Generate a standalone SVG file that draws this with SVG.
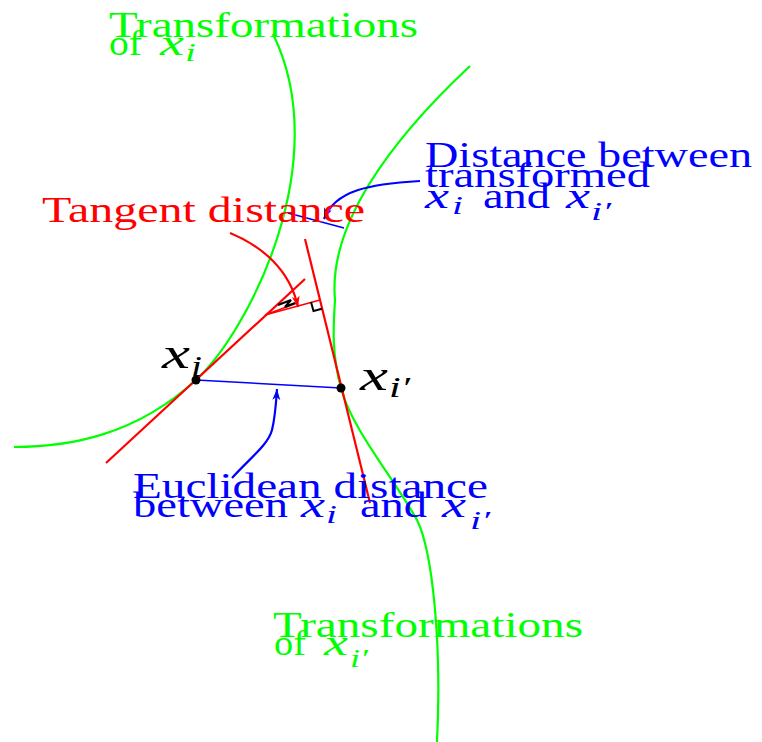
<svg xmlns="http://www.w3.org/2000/svg" width="762" height="742" viewBox="0 0 762 742">
<style>
.t{font-family:"Liberation Serif","Times New Roman",serif;font-size:36px}
.m{font-family:"Liberation Serif","Times New Roman",serif;font-style:italic}
.g{fill:#00ff00}.r{fill:#ff0000}.b{fill:#0000ff}.k{fill:#000}
.cg{fill:none;stroke:#00ff00;stroke-width:2.2}
.cr{fill:none;stroke:#ff0000;stroke-width:2.2}
.cb{fill:none;stroke:#0000ff;stroke-width:2.2}
</style>
<defs>
<marker id="ab" markerUnits="userSpaceOnUse" markerWidth="14" markerHeight="10" refX="11" refY="5" orient="auto"><path d="M0,1 L11,5 L0,9 L3,5 z" fill="#0000ff"/></marker>
<marker id="ar" markerUnits="userSpaceOnUse" markerWidth="14" markerHeight="10" refX="11" refY="5" orient="auto"><path d="M0,1 L11,5 L0,9 L3,5 z" fill="#ff0000"/></marker>
</defs>
<g id="connectors">
<path class="cg" d="M273,34 C335,160 250,330 196,380 C136,435 70,447 14,447"/>
<path class="cg" d="M470,66 C390,141 328,225 335,300 C333,330 332,355 341,388 C351,428 395,480 417,520 C432,550 442,640 437,742"/>
<line class="cr" x1="106" y1="463" x2="305" y2="279"/>
<line class="cr" x1="305" y1="239" x2="370" y2="503"/>
<line stroke="#ff0000" stroke-width="1.5" x1="265" y1="315" x2="320" y2="300"/>
<line stroke="#ff0000" stroke-width="1.5" x1="265" y1="315" x2="297" y2="303"/>
<polyline fill="none" stroke="#000" stroke-width="2" points="311,302 313.5,311 322,308.7"/>
<polyline fill="none" stroke="#000" stroke-width="2.2" points="278,305 291,300 285,307 295,303"/>
<path class="cr" d="M230,233 C262,246 290,270 298,307" marker-end="url(#ar)"/>
<line stroke="#0000ff" stroke-width="1.4" x1="196" y1="380" x2="341" y2="388"/>
<line stroke="#0000ff" stroke-width="1.6" x1="288" y1="213" x2="344" y2="228"/>
<path class="cb" d="M232,478 C250,458 268,445 272,430 C275,418 276,405 277,389" marker-end="url(#ab)"/>
<path class="cb" d="M420,181 C370,184 335,190 324,219" marker-end="url(#ab)"/>
</g>
<g id="point-xi">
<circle cx="196" cy="380" r="4.5" class="k"/>
<text class="m k" x="162" y="368" font-size="45" textLength="28" lengthAdjust="spacingAndGlyphs">x</text>
<text class="m k" x="191" y="376" font-size="30" textLength="11" lengthAdjust="spacingAndGlyphs">i</text>
</g>
<g id="point-xip">
<circle cx="341" cy="388" r="4.5" class="k"/>
<text class="m k" x="360" y="390" font-size="45" textLength="28" lengthAdjust="spacingAndGlyphs">x</text>
<text class="m k" x="389" y="397" font-size="30" textLength="21" lengthAdjust="spacingAndGlyphs">i′</text>
</g>
<g id="label-trans-xi">
<text class="t g" x="109" y="37" textLength="309" lengthAdjust="spacingAndGlyphs">Transformations</text>
<text class="t g" x="109" y="55" textLength="33" lengthAdjust="spacingAndGlyphs">of</text>
<text class="m g" x="160" y="55" font-size="36" textLength="24" lengthAdjust="spacingAndGlyphs">x</text>
<text class="m g" x="185" y="61" font-size="26" textLength="11" lengthAdjust="spacingAndGlyphs">i</text>
</g>
<g id="label-dist-transformed">
<text class="t b" x="425" y="167" textLength="327" lengthAdjust="spacingAndGlyphs">Distance between</text>
<text class="t b" x="425" y="187" textLength="225" lengthAdjust="spacingAndGlyphs">transformed</text>
<text class="m b" x="425" y="208" font-size="36" textLength="24" lengthAdjust="spacingAndGlyphs">x</text>
<text class="m b" x="452" y="214" font-size="26" textLength="11" lengthAdjust="spacingAndGlyphs">i</text>
<text class="t b" x="483" y="208" textLength="67" lengthAdjust="spacingAndGlyphs">and</text>
<text class="m b" x="566" y="208" font-size="36" textLength="24" lengthAdjust="spacingAndGlyphs">x</text>
<text class="m b" x="591" y="220" font-size="26" textLength="20" lengthAdjust="spacingAndGlyphs">i′</text>
</g>
<g id="label-tangent">
<text class="t r" x="42" y="222" textLength="323" lengthAdjust="spacingAndGlyphs">Tangent distance</text>
</g>
<g id="label-euclidean">
<text class="t b" x="133" y="498" textLength="355" lengthAdjust="spacingAndGlyphs">Euclidean distance</text>
<text class="t b" x="133" y="517" textLength="155" lengthAdjust="spacingAndGlyphs">between</text>
<text class="m b" x="301" y="517" font-size="36" textLength="24" lengthAdjust="spacingAndGlyphs">x</text>
<text class="m b" x="326" y="523" font-size="26" textLength="11" lengthAdjust="spacingAndGlyphs">i</text>
<text class="t b" x="360" y="517" textLength="67" lengthAdjust="spacingAndGlyphs">and</text>
<text class="m b" x="442" y="517" font-size="36" textLength="24" lengthAdjust="spacingAndGlyphs">x</text>
<text class="m b" x="470" y="529" font-size="26" textLength="20" lengthAdjust="spacingAndGlyphs">i′</text>
</g>
<g id="label-trans-xip">
<text class="t g" x="273" y="637" textLength="310" lengthAdjust="spacingAndGlyphs">Transformations</text>
<text class="t g" x="274" y="655" textLength="32" lengthAdjust="spacingAndGlyphs">of</text>
<text class="m g" x="324" y="655" font-size="36" textLength="24" lengthAdjust="spacingAndGlyphs">x</text>
<text class="m g" x="350" y="667" font-size="26" textLength="18" lengthAdjust="spacingAndGlyphs">i′</text>
</g>
</svg>
